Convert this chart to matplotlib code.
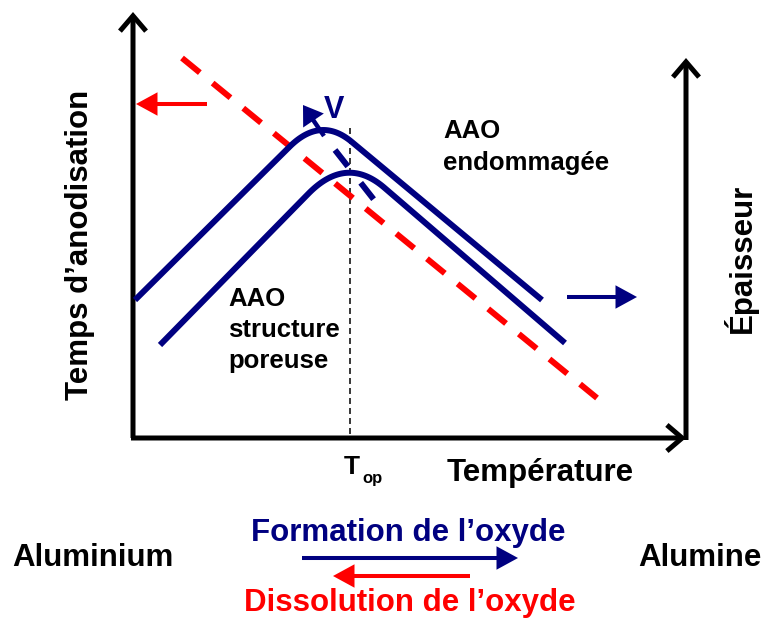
import numpy as np
import matplotlib
matplotlib.use("Agg")
import matplotlib.pyplot as plt
from matplotlib.patches import FancyArrowPatch

plt.rcParams['font.family'] = ['Liberation Sans', 'DejaVu Sans']
plt.rcParams['lines.scale_dashes'] = False

NAVY = '#000080'
RED = '#ff0000'

# ---- schematic data (figure pixel space, y downward) ----
# upper curve (AAO endommagée): start, apex, end, rounding
upper_x = [135, 320.6, 542]
upper_y = [300, 116, 300]
upper_round = 31
# lower curve (AAO structure poreuse)
lower_x = [160, 346.3, 565]
lower_y = [345, 155, 343]
lower_round = 38
# dissolution (red dashed) line
red_x = [182, 597]
red_y = [58, 398]
# trajectory of the optimum (blue dashed)
traj_x = [335, 375]
traj_y = [150, 201]
# T_op vertical
top_x = 350
top_y = [128, 438]
# axes frame
origin = (133, 438)
left_top = 12
right_x = 686
right_top = 58

texts_main = {
    'ylabel': "Temps d’anodisation",
    'xlabel': "Température",
    'y2label': "Épaisseur",
}


def rounded_path(xs, ys, dx):
    p0 = np.array([xs[0], ys[0]], float)
    a = np.array([xs[1], ys[1]], float)
    p2 = np.array([xs[2], ys[2]], float)
    b0 = a + (p0 - a) * dx / (a[0] - p0[0])
    b1 = a + (p2 - a) * dx / (p2[0] - a[0])
    t = np.linspace(0, 1, 60)[:, None]
    bez = (1 - t) ** 2 * b0 + 2 * (1 - t) * t * a + t ** 2 * b1
    pts = np.vstack([p0, bez, p2])
    return pts[:, 0], pts[:, 1]


fig = plt.figure(figsize=(7.63, 6.21), dpi=100)
ax = fig.add_axes([0, 0, 1, 1])
ax.set_xlim(0, 763)
ax.set_ylim(621, 0)
ax.axis('off')


def arrow(tail, tip, color, style, lw, ms=20, z=3):
    ar = FancyArrowPatch(tail, tip, arrowstyle=style, mutation_scale=ms,
                         color=color, lw=lw, shrinkA=0, shrinkB=0,
                         joinstyle='miter', capstyle='butt', zorder=z)
    ax.add_patch(ar)


# axes
chev = '->,head_length=0.55,head_width=0.47'
arrow(origin, (origin[0], left_top), 'black', chev, 3.6)
arrow((origin[0] - 2, origin[1]), (right_x, origin[1]), 'black', chev, 3.6)
arrow((right_x, origin[1] + 2), (right_x, right_top), 'black', chev, 3.6)

# T_op dashed line
ax.plot([top_x, top_x], top_y, color='black', lw=1.1, dashes=(4.3, 2.9), zorder=2)

# red dashed dissolution line
ax.plot(red_x, red_y, color=RED, lw=4.3, dashes=(16.6, 11.9), solid_capstyle='butt',
        dash_capstyle='butt', zorder=2)

# blue curves
for xs, ys, r in [(upper_x, upper_y, upper_round), (lower_x, lower_y, lower_round)]:
    px, py = rounded_path(xs, ys, r)
    ax.plot(px, py, color=NAVY, lw=4.3, solid_capstyle='butt', zorder=4)

# trajectory dashed
ax.plot(traj_x, traj_y, color=NAVY, lw=4.3, dashes=(15, 15), dash_capstyle='butt', zorder=4)
# V arrow
arrow((324, 136), (303, 105), NAVY, '-|>,head_length=0.45,head_width=0.3', 3.2, ms=20, z=5)
ax.text(334, 110, 'V', color=NAVY, fontsize=22, fontweight='bold', ha='center', va='center')

# side arrows
arrow((207, 104), (136, 104), RED, '-|>,head_length=0.55,head_width=0.3', 2.9)
arrow((567, 297), (637, 297), NAVY, '-|>,head_length=0.55,head_width=0.3', 2.9)

# labels
ax.text(80, 245, texts_main['ylabel'], rotation=90, fontsize=22.5, fontweight='bold',
        ha='center', va='center')
ax.text(540, 473, texts_main['xlabel'], fontsize=22.5, fontweight='bold', ha='center', va='center')
ax.text(740, 258, texts_main['y2label'], rotation=90, fontsize=22.5, fontweight='bold',
        ha='center', va='center')
ax.text(443, 147, 'AAO\nendommagée', fontsize=18.5, fontweight='bold', ha='left', va='center',
        linespacing=1.38)
ax.text(228, 330, 'AAO\nstructure\nporeuse', fontsize=18.5, fontweight='bold', ha='left',
        va='center', linespacing=1.36)
ax.text(352, 467, 'T', fontsize=19, fontweight='bold', ha='center', va='center')
ax.text(362, 479, 'op', fontsize=12, fontweight='bold', ha='left', va='center')

# bottom reaction
ax.text(93, 558, 'Aluminium', fontsize=22.5, fontweight='bold', ha='center', va='center')
ax.text(700, 558, 'Alumine', fontsize=22.5, fontweight='bold', ha='center', va='center')
ax.text(408, 533, 'Formation de l’oxyde', color=NAVY, fontsize=22.5, fontweight='bold',
        ha='center', va='center')
ax.text(410, 603, 'Dissolution de l’oxyde', color=RED, fontsize=22.5, fontweight='bold',
        ha='center', va='center')
arrow((302, 558), (518, 558), NAVY, '-|>,head_length=0.55,head_width=0.3', 2.9)
arrow((470, 576), (333, 576), RED, '-|>,head_length=0.55,head_width=0.3', 2.9)

fig.savefig('out.png', dpi=100)
